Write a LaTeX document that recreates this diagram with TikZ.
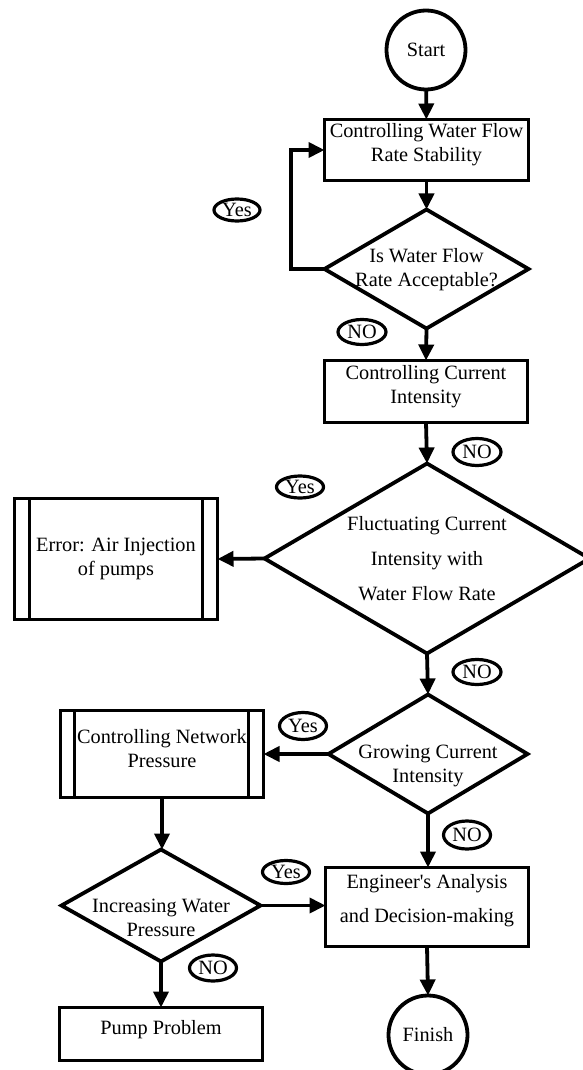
\documentclass[tikz,border=0pt]{standalone}
\usepackage{fontspec}
\setmainfont{Liberation Serif}
\usetikzlibrary{shapes.geometric,arrows.meta}
\begin{document}
\begin{tikzpicture}[x=1pt,y=-1pt,
  every node/.style={font=\fontsize{20.3}{24}\selectfont},
  box/.style={draw, line width=3.8pt, rectangle, inner sep=0pt, outer sep=0pt},
  dia/.style={draw, line width=3.8pt, diamond, inner sep=0pt, outer sep=0pt},
  term/.style={draw, line width=3.8pt, circle, inner sep=0pt, outer sep=0pt, minimum size=79pt},
  txt/.style={align=center, inner sep=0pt},
  wide/.style={font=\fontsize{20.3}{35}\selectfont},
  lbl/.style={draw, line width=3.2pt, ellipse, inner sep=0pt, outer sep=0pt, minimum width=48pt, minimum height=25pt},
  arr/.style={draw, line width=3.8pt, -{Triangle[length=16pt,width=15pt]}},
  side/.style={draw, line width=3.8pt}
]
\useasboundingbox (0,0) rectangle (582,1070);

% main column
\node[term] (start) at (426,50) {Start};
\node[box, minimum width=204pt, minimum height=61pt] (b1) at (426.5,150) {};
\node[txt] (t1) at (426.5,145) {Controlling Water Flow\\Rate Stability};

\node[dia, minimum width=204pt, minimum height=119pt] (d1) at (426.5,269) {};
\node[txt] (t2) at (426.5,270) {Is Water Flow\\Rate Acceptable?};

\node[box, minimum width=203pt, minimum height=62pt] (b2) at (426,391.5) {};
\node[txt] (t3) at (426,387) {Controlling Current\\Intensity};

\node[dia, minimum width=325pt, minimum height=190pt] (d2) at (427,558.5) {};
\node[txt, wide] (t4) at (427,559) {Fluctuating Current\\Intensity with\\Water Flow Rate};

\node[box, minimum width=203pt, minimum height=121pt] (err) at (116,559) {};
\node[txt] (t5) at (116,558.5) {Error: Air Injection\\of pumps};
\draw[side] ([xshift=15pt]err.north west) -- ([xshift=15pt]err.south west);
\draw[side] ([xshift=-15pt]err.north east) -- ([xshift=-15pt]err.south east);

\node[dia, minimum width=199pt, minimum height=119pt] (d4) at (428,754) {};
\node[txt] (t6) at (428,766) {Growing Current\\Intensity};

\node[box, minimum width=203pt, minimum height=87pt] (net) at (162,754) {};
\node[txt] (t7) at (162,749) {Controlling Network\\Pressure};
\draw[side] ([xshift=14pt]net.north west) -- ([xshift=14pt]net.south west);
\draw[side] ([xshift=-15pt]net.north east) -- ([xshift=-15pt]net.south east);

\node[dia, minimum width=199pt, minimum height=112pt] (d3) at (161,905.5) {};
\node[txt] (t8) at (161,918) {Increasing Water\\Pressure};

\node[box, minimum width=203pt, minimum height=79pt] (eng) at (427,907) {};
\node[txt, font=\fontsize{20.3}{34}\selectfont] (t9) at (427,900.5) {Engineer\textquotesingle s Analysis\\and Decision-making};

\node[box, minimum width=203pt, minimum height=53pt] (pump) at (161,1034) {};
\node[txt] (t10) at (161,1030) {Pump Problem};

\node[term] (fin) at (428,1035) {Finish};

% labels
\node[lbl, minimum width=46pt, minimum height=22pt] (yes1) at (237,210) {Yes};
\node[lbl] (no1) at (362,332) {NO};
\node[lbl, minimum height=27pt] (no2) at (477,452) {NO};
\node[lbl, minimum width=47pt, minimum height=22pt] (yes2) at (300,487) {Yes};
\node[lbl] (no3) at (477,672) {NO};
\node[lbl, minimum width=47pt, minimum height=27pt] (yes3) at (303,726) {Yes};
\node[lbl, minimum width=47pt, minimum height=28pt] (no4) at (467,835) {NO};
\node[lbl, minimum width=47pt, minimum height=23pt] (yes4) at (286,872) {Yes};
\node[lbl, minimum width=47pt, minimum height=26pt] (no5) at (213,968) {NO};

% connectors
\coordinate (lx) at (291,269);
\draw[arr] (start) -- (b1);
\draw[arr] (b1) -- (d1);
\draw[arr] (d1.west) -- (lx) |- (b1.west);
\draw[arr] (d1.south) -- (b2.north);
\draw[arr] (b2.south) -- (d2.north);
\draw[arr] (d2.west) -- (err.east);
\draw[arr] (d2.south) -- (d4.north);
\draw[arr] (d4.west) -- (net.east);
\draw[arr] (d4.south) -- (eng.north -| d4.south);
\draw[arr] (net.south) -- (d3.north -| net.south);
\draw[arr] (d3.east) -- (eng.west |- d3.east);
\draw[arr] (d3.south) -- (pump.north -| d3.south);
\draw[arr] (eng.south) -- (fin.north);
\end{tikzpicture}
\end{document}
